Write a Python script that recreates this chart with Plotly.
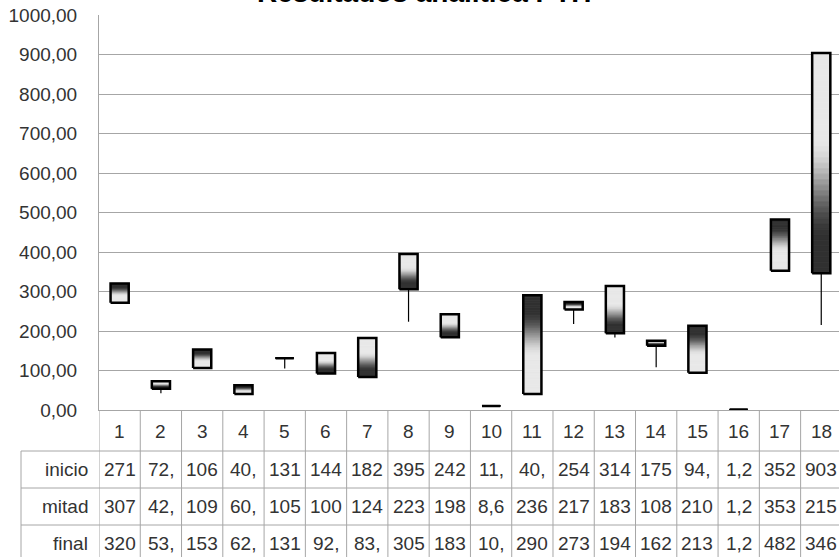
import plotly.graph_objects as go

# ---------------- data ----------------
categories = list(range(1, 19))
inicio = [271.4, 72.6, 106.3, 40.5, 131.2, 144.5, 182.3, 395.1, 242.6, 11.3,
          40.2, 254.7, 314.2, 175.4, 94.6, 1.2, 352.8, 903.5]
mitad = [307.2, 42.5, 109.8, 60.3, 105.1, 100.4, 124.6, 223.5, 198.3, 8.6,
         236.4, 217.8, 183.5, 108.2, 210.7, 1.2, 353.6, 215.3]
final = [320.5, 53.8, 153.2, 62.4, 131.5, 92.7, 83.4, 305.6, 183.9, 10.4,
         290.2, 273.5, 194.1, 162.8, 213.3, 1.2, 482.1, 346.5]
row_names = ["inicio", "mitad", "final"]
title_text = "Resultados analítica PTH"
y_ticks = [0, 100, 200, 300, 400, 500, 600, 700, 800, 900, 1000]

# ---------------- geometry / style ----------------
W, H = 839, 557
ML, MT, MB = 99, 15, 147
PH = H - MT - MB            # plot height in px
PW = W - ML                 # plot width in px
X_RANGE = [0.5, 18.43]
BOX_W = 0.44
N_SLICES = 40
FONT = "Liberation Sans, Arial, sans-serif"
TXT = "#333333"
GRID = "#a6a6a6"


def py(px):
    """pixel row -> paper y"""
    return (H - MB - px) / PH


def pxx(px):
    """pixel column -> paper x"""
    return (px - ML) / PW


def shade(t):
    a, b = 0.38, 0.85
    s = min(max((t - a) / (b - a), 0.0), 1.0)
    s = s * s * (3 - 2 * s)
    v = round(232 + (48 - 232) * s)
    return f"rgb({v},{v},{v})"


def cell(v):
    return f"{v:.1f}".replace(".", ",")[:3]


# gradient slices of each box
sx, sbase, sh, scol = [], [], [], []
for c, o, f in zip(categories, inicio, final):
    for k in range(N_SLICES):
        t0, t1 = k / N_SLICES, (k + 1) / N_SLICES
        y0 = o + (f - o) * t0
        y1 = o + (f - o) * t1
        sx.append(c)
        sbase.append(min(y0, y1))
        sh.append(abs(y1 - y0))
        scol.append(shade((t0 + t1) / 2))

# outlines and high-low whiskers
ox, oy, wx, wy = [], [], [], []
for c, o, m, f in zip(categories, inicio, mitad, final):
    lo, hi = min(o, f), max(o, f)
    ox += [c - BOX_W / 2, c + BOX_W / 2, c + BOX_W / 2, c - BOX_W / 2, c - BOX_W / 2, None]
    oy += [lo, lo, hi, hi, lo, None]
    low, high = min(o, m, f), max(o, m, f)
    if low < lo:
        wx += [c, c, None]
        wy += [low, lo, None]
    if high > hi:
        wx += [c, c, None]
        wy += [hi, high, None]

fig = go.Figure()
fig.add_trace(go.Bar(
    x=sx, y=sh, base=sbase, width=BOX_W,
    marker=dict(color=scol, line=dict(color=scol, width=0.8)),
    hoverinfo="skip", showlegend=False))
fig.add_trace(go.Scatter(
    x=wx, y=wy, mode="lines", line=dict(color="black", width=1.2),
    hoverinfo="skip", showlegend=False))
fig.add_trace(go.Scatter(
    x=ox, y=oy, mode="lines", line=dict(color="black", width=2.5),
    hoverinfo="skip", showlegend=False))

shapes = []
# column separators through the data table
for k in range(len(categories)):
    shapes.append(dict(type="line", xref="x", yref="paper",
                       x0=k + 0.5, x1=k + 0.5, y0=0, y1=py(H + 10),
                       line=dict(color=GRID, width=1)))
# row lines
row_tops = [451, 488, 525]
for r in row_tops:
    shapes.append(dict(type="line", xref="paper", yref="paper",
                       x0=pxx(21), x1=1, y0=py(r), y1=py(r),
                       line=dict(color=GRID, width=1)))
shapes.append(dict(type="line", xref="paper", yref="paper",
                   x0=pxx(21), x1=pxx(21), y0=py(451), y1=py(H + 10),
                   line=dict(color=GRID, width=1)))

annotations = []
# header numbers
for c in categories:
    annotations.append(dict(x=c, y=py(431), xref="x", yref="paper",
                            text=str(c), showarrow=False,
                            font=dict(family=FONT, size=19, color=TXT),
                            xanchor="center", yanchor="middle"))
row_centers = [469.5, 506.5, 543.5]
for name, vals, yc in zip(row_names, [inicio, mitad, final], row_centers):
    annotations.append(dict(x=pxx(90), y=py(yc), xref="paper", yref="paper",
                            text=name, showarrow=False,
                            font=dict(family=FONT, size=19, color=TXT),
                            xanchor="right", yanchor="middle"))
    for c, v in zip(categories, vals):
        annotations.append(dict(x=c, y=py(yc), xref="x", yref="paper",
                                text=cell(v), showarrow=False,
                                font=dict(family=FONT, size=19, color=TXT),
                                xanchor="center", yanchor="middle"))
# title (partially cut at the top)
annotations.append(dict(x=pxx(424), y=py(10.5), xref="paper", yref="paper",
                        text=f"<b>{title_text}</b>", showarrow=False,
                        font=dict(family=FONT, size=28, color="black"),
                        xanchor="center", yanchor="bottom"))

fig.update_layout(
    width=W, height=H,
    margin=dict(l=ML, r=0, t=MT, b=MB, pad=0),
    paper_bgcolor="white", plot_bgcolor="white",
    separators=",.",
    barmode="overlay",
    showlegend=False,
    shapes=shapes,
    annotations=annotations,
    font=dict(family=FONT, size=19, color=TXT),
)
fig.update_xaxes(range=X_RANGE, showticklabels=False, showgrid=False,
                 zeroline=False, showline=True, linecolor=GRID, linewidth=1,
                 ticks="", fixedrange=True)
fig.update_yaxes(range=[0, 1000], tickvals=y_ticks, tickformat=".2f",
                 showgrid=True, gridcolor=GRID, gridwidth=1,
                 zeroline=False, showline=True, linecolor=GRID, linewidth=1,
                 ticks="", ticklabelstandoff=17, automargin=False,
                 tickfont=dict(family=FONT, size=19, color=TXT),
                 fixedrange=True)

fig.write_html("out.html", config={"displayModeBar": False},
               post_script="document.body.style.margin='0px';")
